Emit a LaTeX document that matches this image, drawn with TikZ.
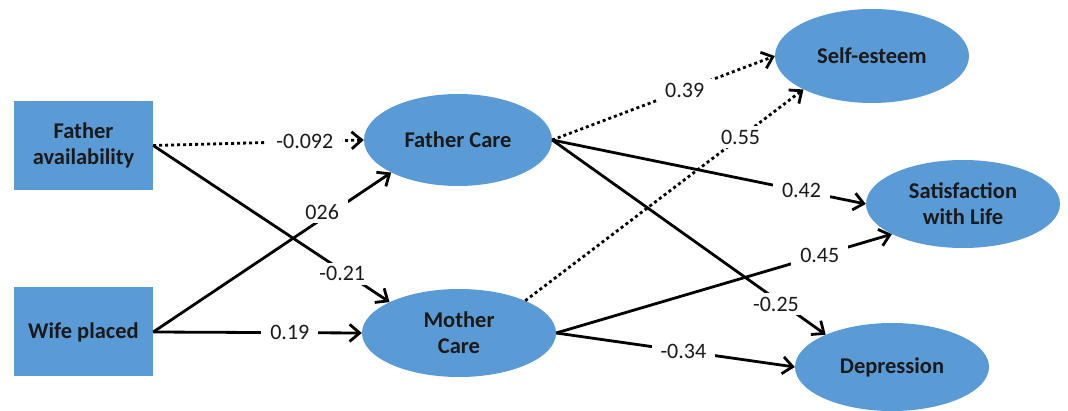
\documentclass[tikz,border=0pt]{standalone}
\usepackage{fontspec}
\setmainfont{Carlito}
\usetikzlibrary{arrows.meta,shapes.geometric}
\definecolor{nodeblue}{HTML}{5B9BD5}
\definecolor{txt}{HTML}{1A1A1A}
\begin{document}
\begin{tikzpicture}[x=1pt,y=-1pt,
  box/.style={rectangle,fill=nodeblue,inner sep=0pt,minimum width=139pt,minimum height=89pt,
    font=\fontsize{22.5}{26}\selectfont\bfseries,text=txt,align=center},
  oval/.style={ellipse,fill=nodeblue,inner sep=0pt,minimum width=194pt,minimum height=88pt,
    font=\fontsize{22.5}{26}\selectfont\bfseries,text=txt,align=center},
  path/.style={line width=2.8pt,black,-{Straight Barb[length=10pt,width=17pt]}},
  dots/.style={dash pattern=on 3pt off 3pt},
  lab/.style={fill=white,inner xsep=9pt,inner ysep=4pt,font=\fontsize{22}{26}\selectfont,text=txt}]
\useasboundingbox (0,0) rectangle (1068,411);
\node[box] (fa) at (83.5,145.5) {Father\\availability};
\node[box] (wp) at (83.5,332) {Wife placed};
\node[oval,minimum width=188pt,minimum height=92pt] (fc) at (458,140) {Father Care};
\node[oval] (mc) at (459,333) {Mother\\Care};
\node[oval,minimum height=94pt] (se) at (872,56) {Self-esteem};
\node[oval] (sat) at (963,204) {Satisfaction\\with Life};
\node[oval] (dep) at (892,367) {Depression};

\draw[path,dots] (fa.east) -- node[lab,pos=0.72] (l1) {-0.092} (fc.west);
\draw[path] (fa.east) -- node[lab,pos=0.80,yshift=-3pt] (l2) {-0.21} (mc.156);
\draw[path] (wp.east) -- node[lab,pos=0.71,yshift=7pt] (l3) {026} (fc.206);
\draw[path] (wp.east) -- node[lab,pos=0.655] (l4) {0.19} (mc.west);
\draw[path,dots] (fc.east) -- node[lab,pos=0.595] (l5) {0.39} (se.west);
\draw[path,dots] (mc.26) -- node[lab,pos=0.774] (l6) {0.55} (se.206);
\draw[path] (fc.east) -- node[lab,pos=0.795] (l7) {0.42} (sat.west);
\draw[path] (fc.east) -- node[lab,pos=0.818,yshift=-5pt] (l8) {-0.25} (dep.154);
\draw[path] (mc.east) -- node[lab,pos=0.785] (l9) {0.45} (sat.203);
\draw[path] (mc.east) -- node[lab,pos=0.533] (l10) {-0.34} (dep.west);
\end{tikzpicture}
\end{document}
